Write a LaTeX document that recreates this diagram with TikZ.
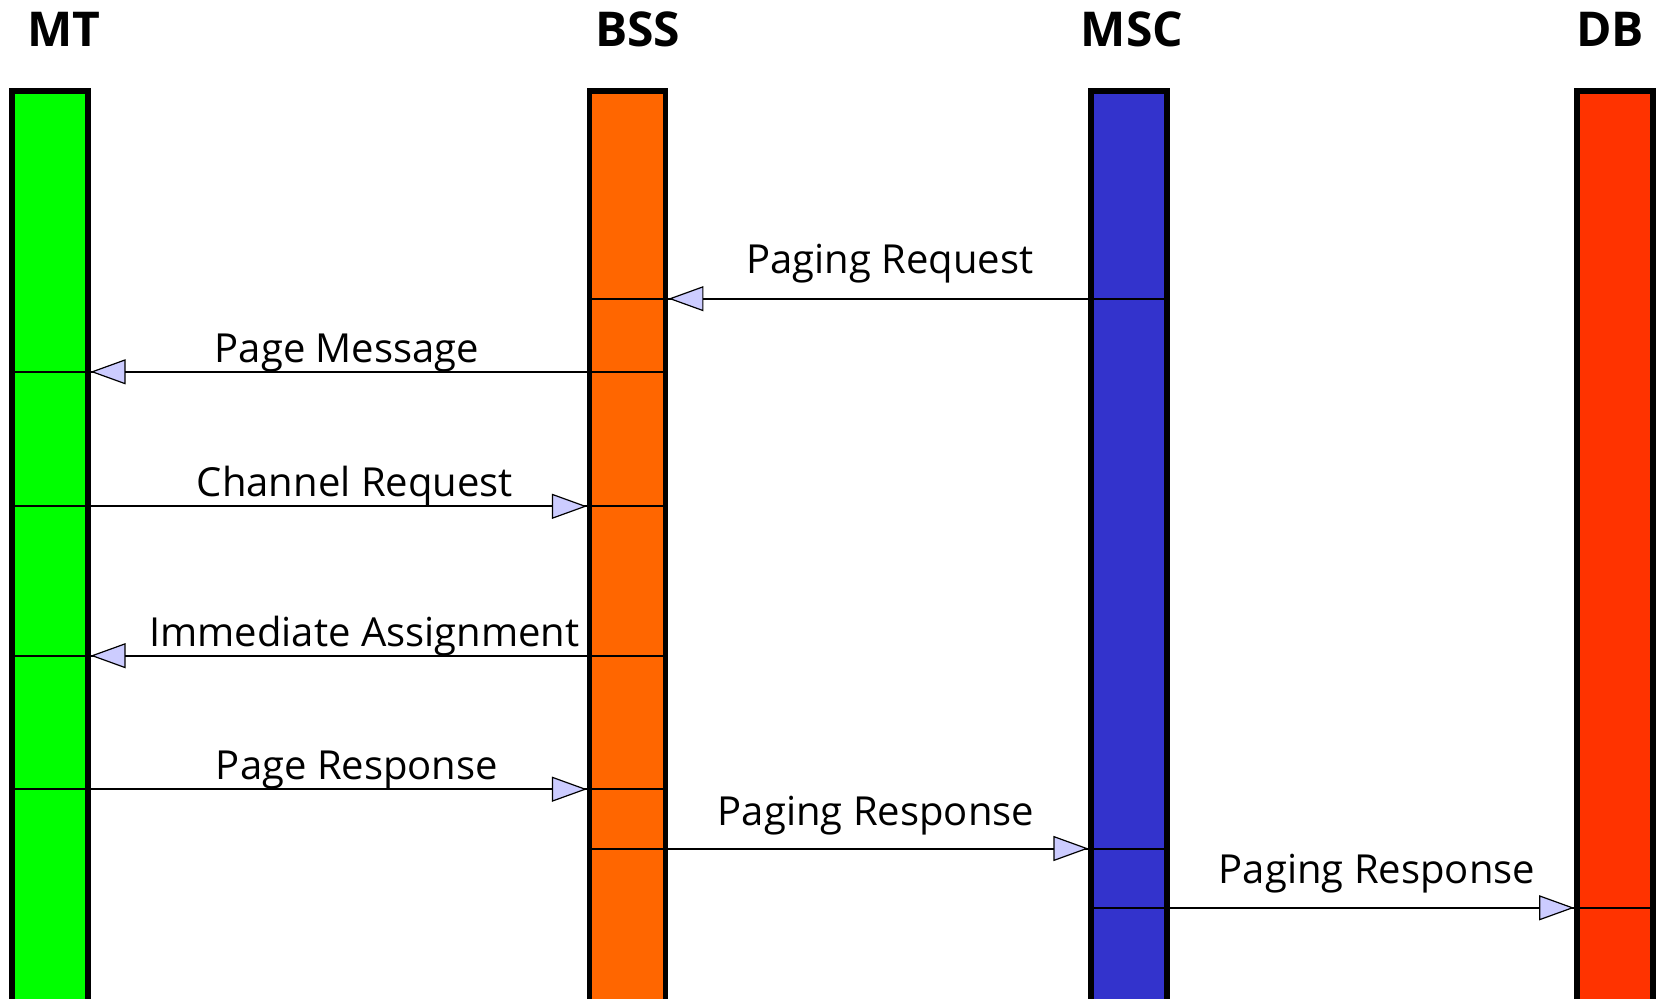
\documentclass[tikz,border=0pt]{standalone}
\usepackage{fontspec}
\setmainfont{Open Sans}
\usetikzlibrary{arrows.meta}
\definecolor{mtgreen}{HTML}{00FF00}
\definecolor{bssorange}{HTML}{FF6600}
\definecolor{mscblue}{HTML}{3333CC}
\definecolor{dbred}{HTML}{FF3300}
\definecolor{tipfill}{HTML}{CCCCFF}
\tikzset{
  bar/.style={draw=black, line width=5.5pt, minimum width=76pt, minimum height=920pt, inner sep=0pt, anchor=north},
  title/.style={font=\fontsize{48}{50}\selectfont\bfseries, anchor=base},
  lbl/.style={font=\fontsize{40}{44}\selectfont, anchor=base, inner sep=0pt},
  msgline/.style={line width=2pt},
  msg/.style={line width=2pt, -{Triangle[length=35pt,width=25pt,fill=tipfill,line width=1.2pt]}},
}
\begin{document}
\begin{tikzpicture}[x=1pt,y=-1pt]
\useasboundingbox (0,0) rectangle (1661,998);
% bars
\node[bar, fill=mtgreen] (mt) at (49.8,88) {};
\node[bar, fill=bssorange] (bss) at (627.7,88) {};
\node[bar, fill=mscblue] (msc) at (1129.2,88) {};
\node[bar, fill=dbred] (db) at (1614.9,88) {};
% titles
\node[title] (tmt) at (63.6,46.6) {MT};
\node[title] (tbss) at (637.6,46.6) {BSS};
\node[title] (tmsc) at (1131.9,46.6) {MSC};
\node[title] (tdb) at (1610,46.6) {DB};
% message y positions
\coordinate (y1) at (0,298.7);
\coordinate (y2) at (0,371.8);
\coordinate (y3) at (0,506.3);
\coordinate (y4) at (0,655.7);
\coordinate (y5) at (0,789.2);
\coordinate (y6) at (0,848.5);
\coordinate (y7) at (0,907.8);
% Paging Request: MSC -> BSS
\draw[msgline] ([xshift=3pt]bss.west|-y1) -- ([xshift=-3pt]msc.east|-y1);
\draw[msg] (msc.west|-y1) -- (bss.east|-y1);
% Page Message: BSS -> MT
\draw[msgline] ([xshift=3pt]mt.west|-y2) -- ([xshift=-3pt]bss.east|-y2);
\draw[msg] (bss.west|-y2) -- (mt.east|-y2);
% Channel Request: MT -> BSS
\draw[msgline] ([xshift=3pt]mt.west|-y3) -- ([xshift=-3pt]bss.east|-y3);
\draw[msg] (mt.east|-y3) -- (bss.west|-y3);
% Immediate Assignment: BSS -> MT
\draw[msgline] ([xshift=3pt]mt.west|-y4) -- ([xshift=-3pt]bss.east|-y4);
\draw[msg] (bss.west|-y4) -- (mt.east|-y4);
% Page Response: MT -> BSS
\draw[msgline] ([xshift=3pt]mt.west|-y5) -- ([xshift=-3pt]bss.east|-y5);
\draw[msg] (mt.east|-y5) -- (bss.west|-y5);
% Paging Response: BSS -> MSC
\draw[msgline] ([xshift=3pt]bss.west|-y6) -- ([xshift=-3pt]msc.east|-y6);
\draw[msg] (bss.east|-y6) -- (msc.west|-y6);
% Paging Response: MSC -> DB
\draw[msgline] ([xshift=3pt]msc.west|-y7) -- ([xshift=-3pt]db.east|-y7);
\draw[msg] (msc.east|-y7) -- (db.west|-y7);
% labels
\node[lbl] (l1) at (889.8,273.3) {Paging Request};
\node[lbl] (l2) at (347,362.3) {Page Message};
\node[lbl] (l3) at (354.9,496.8) {Channel Request};
\node[lbl] (l4) at (364.4,646.2) {Immediate Assignment};
\node[lbl] (l5) at (357,779.6) {Page Response};
\node[lbl] (l6) at (876,825.2) {Paging Response};
\node[lbl] (l7) at (1377,883.5) {Paging Response};
\end{tikzpicture}
\end{document}
